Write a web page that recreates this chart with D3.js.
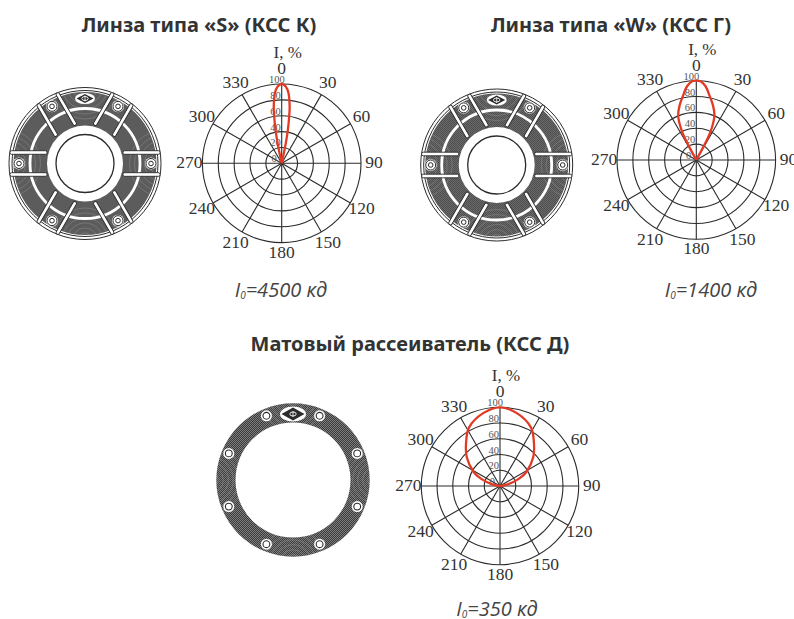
<!DOCTYPE html>
<html><head><meta charset="utf-8">
<script src="https://cdn.jsdelivr.net/npm/d3@7"></script>
<style>html,body{margin:0;background:#fff}svg{display:block}</style></head>
<body><svg id="c" width="794" height="619"></svg>
<script>
const titles = ["Линза типа «S» (КСС К)", "Линза типа «W» (КСС Г)", "Матовый рассеиватель (КСС Д)"];
const intensities = ["4500", "1400", "350"];
const ringValues = [20, 40, 60, 80, 100];
const radialLabels = [100, 80, 60, 40, 20, 0];
const angleTicks = [0, 30, 60, 90, 120, 150, 180, 210, 240, 270, 300, 330];
// half-curves: angle (deg from axis) and intensity (%)
const angS = [0, 3, 5.5, 8, 9, 10.5, 11.5, 12, 12.3];
const valS = [100, 97, 89, 72, 61, 42, 26, 12, 0];
const angW = [0, 3, 7, 12, 17, 22, 25, 27, 28, 28.5, 29];
const valW = [100, 99.5, 94, 82, 72, 61, 49, 38, 25, 12, 0];
const angD = [0, 13, 28, 38, 49, 62, 69, 78, 86];
const valD = [100, 95, 84, 70, 56, 38, 26, 10, 0];

const svg = d3.select("#c");
const defs = svg.append("defs");
const pat = defs.append("pattern").attr("id","hatch").attr("width",2).attr("height",2)
  .attr("patternUnits","userSpaceOnUse");
pat.append("rect").attr("width",2).attr("height",2).attr("fill","#7c7c7c");
pat.append("rect").attr("width",1).attr("height",1).attr("fill","#3c3c3c");
pat.append("rect").attr("x",1).attr("y",1).attr("width",1).attr("height",1).attr("fill","#3c3c3c");

const ink = "#2b2b2b", red = "#e23a24";
const rad = d => d * Math.PI / 180;
const annulus = (r0, r1) => `M${-r1},0A${r1},${r1} 0 1,0 ${r1},0A${r1},${r1} 0 1,0 ${-r1},0Z` +
  `M${-r0},0A${r0},${r0} 0 1,0 ${r0},0A${r0},${r0} 0 1,0 ${-r0},0Z`;
let clipN = 0;

function polar(cx, cy, R, ang, val) {
  const g = svg.append("g").attr("transform",`translate(${cx},${cy})`);
  const r = d3.scaleLinear().domain([0,100]).range([0,R]);
  g.selectAll("circle.ring").data(ringValues).join("circle").attr("class","ring")
    .attr("r", d => r(d)).attr("fill","none").attr("stroke",ink).attr("stroke-width",1.1);
  g.selectAll("line.spoke").data(angleTicks).join("line").attr("class","spoke")
    .attr("x2", d => R*Math.sin(rad(d))).attr("y2", d => -R*Math.cos(rad(d)))
    .attr("stroke",ink).attr("stroke-width",1.1);
  g.selectAll("text.ang").data(angleTicks).join("text").attr("class","ang")
    .attr("x", d => (R+13)*Math.sin(rad(d)))
    .attr("y", d => -(R+13)*Math.cos(rad(d)) + (d===0 ? -2 : d===180 ? -3 : 0) + 5)
    .attr("text-anchor","middle").attr("font-family","Liberation Serif").attr("font-size",17.5)
    .attr("fill","#333").text(d => d);
  g.selectAll("text.rad").data(radialLabels).join("text").attr("class","rad")
    .attr("x", d => d===100 ? 3 : d===0 ? -5 : -1)
    .attr("y", d => -r(d) - 1)
    .attr("text-anchor","end").attr("font-family","Liberation Serif").attr("font-size",10.5)
    .attr("fill","#555").text(d => d);
  g.append("text").attr("x",6).attr("y",-105).attr("text-anchor","middle")
    .attr("font-family","Liberation Serif").attr("font-size",17).attr("fill","#333").text("I, %");
  const pts = ang.map((a,i)=>[-rad(a), r(val[i])]).reverse()
    .concat(ang.slice(1).map((a,i)=>[rad(a), r(val[i+1])]));
  g.append("path").attr("d", d3.lineRadial().curve(d3.curveCatmullRom.alpha(0.5))(pts))
    .attr("fill","none").attr("stroke",red).attr("stroke-width",2.3).attr("stroke-linejoin","round");
}

function moire(g, clipId, R) {
  const a = g.append("g").attr("clip-path",`url(#${clipId})`);
  const centres = [[0,R+6],[0,-R-6],[R+6,0],[-R-6,0]];
  const radii = d3.range(8, 38, 5);
  centres.forEach(c => a.selectAll(null).data(radii).join("circle")
    .attr("cx",c[0]).attr("cy",c[1]).attr("r",d=>d)
    .attr("fill","none").attr("stroke","#8c8c8c").attr("stroke-width",0.9).attr("opacity",0.6));
}

function screw(g, a, r) {
  const s = g.append("g").attr("transform",`translate(${r*Math.sin(rad(a))},${-r*Math.cos(rad(a))})`);
  s.append("circle").attr("r",6).attr("fill","#fff");
  s.append("circle").attr("r",5).attr("fill","none").attr("stroke",ink).attr("stroke-width",1);
  s.append("circle").attr("r",2.3).attr("fill","none").attr("stroke",ink).attr("stroke-width",1);
}
function diamond(g, r, rx, ry) {
  const d = g.append("g").attr("transform",`translate(0,${-r})`);
  d.append("ellipse").attr("rx",rx).attr("ry",ry).attr("fill","#fff");
  d.append("path").attr("d",`M${-rx+1.5},0L0,${-ry+1}L${rx-1.5},0L0,${ry-1}Z`).attr("fill",ink);
  d.append("ellipse").attr("rx",3.2).attr("ry",2).attr("fill","none").attr("stroke","#fff").attr("stroke-width",0.9);
  d.append("line").attr("x1",0).attr("x2",0).attr("y1",-3).attr("y2",3).attr("stroke","#fff").attr("stroke-width",0.8);
}

const screwAnglesLens = [30, 90, 150, 210, 270, 330];
function lens(cx, cy) {
  const g = svg.append("g").attr("transform",`translate(${cx},${cy})`);
  const id = "clip"+(clipN++);
  defs.append("clipPath").attr("id",id).append("path").attr("d",annulus(38,71.5)).attr("clip-rule","evenodd");
  g.append("path").attr("d",annulus(38,71.5)).attr("fill","url(#hatch)").attr("fill-rule","evenodd");
  moire(g, id, 71.5);
  g.append("circle").attr("r",55).attr("fill","none").attr("stroke","#fff").attr("stroke-width",2.8);
  g.append("circle").attr("r",76).attr("fill","none").attr("stroke",ink).attr("stroke-width",1);
  g.append("circle").attr("r",73).attr("fill","none").attr("stroke",ink).attr("stroke-width",1);
  g.append("circle").attr("r",29).attr("fill","none").attr("stroke",ink).attr("stroke-width",1.3);
  screwAnglesLens.forEach(a => {
    const b = g.append("g").attr("transform",`rotate(${a})`);
    [-11,11].forEach(dx => b.append("rect").attr("x",dx-1.8).attr("y",-75).attr("width",3.6).attr("height",37)
      .attr("rx",1.5).attr("fill","#fff").attr("stroke",ink).attr("stroke-width",0.9));
    screw(g, a, 66);
  });
  diamond(g, 65, 10, 5.5);
}

function ring(cx, cy) {
  const g = svg.append("g").attr("transform",`translate(${cx},${cy})`);
  const id = "clip"+(clipN++);
  defs.append("clipPath").attr("id",id).append("path").attr("d",annulus(57.5,76.7)).attr("clip-rule","evenodd");
  g.append("path").attr("d",annulus(57.5,76.7)).attr("fill","url(#hatch)").attr("fill-rule","evenodd");
  moire(g, id, 76.7);
  [22.5,67.5,112.5,157.5,202.5,247.5,292.5,337.5].forEach(a => {
    const s = g.append("g").attr("transform",`translate(${69.5*Math.sin(rad(a))},${-69.5*Math.cos(rad(a))})`);
    s.append("circle").attr("r",5.5).attr("fill","#fff");
    s.append("circle").attr("r",3.4).attr("fill","none").attr("stroke",ink).attr("stroke-width",1.1);
  });
  diamond(g, 66, 13, 7.5);
}

function title(t, x, y) {
  svg.append("text").attr("x",x).attr("y",y).attr("text-anchor","middle")
    .attr("font-family","Noto Sans").attr("font-weight",700).attr("font-size",20)
    .attr("fill","#333").text(t);
}
function i0(v, x, y) {
  const t = svg.append("text").attr("x",x).attr("y",y).attr("text-anchor","middle")
    .attr("font-family","Open Sans").attr("font-style","italic").attr("font-size",20).attr("fill","#444");
  t.append("tspan").text("I");
  t.append("tspan").attr("font-size",10).attr("dy",2).text("0");
  t.append("tspan").attr("dy",-2).text("=" + v + " кд");
}

title(titles[0], 199, 32); title(titles[1], 611, 32); title(titles[2], 410, 351);
lens(85, 163.5); lens(496.7, 165); ring(293, 480);
polar(281.7, 163.3, 79.3, angS, valS);
polar(696.3, 160, 79.3, angW, valW);
polar(500, 486, 78.7, angD, valD);
i0(intensities[0], 281, 297); i0(intensities[1], 711, 297); i0(intensities[2], 497, 616);
</script></body></html>
